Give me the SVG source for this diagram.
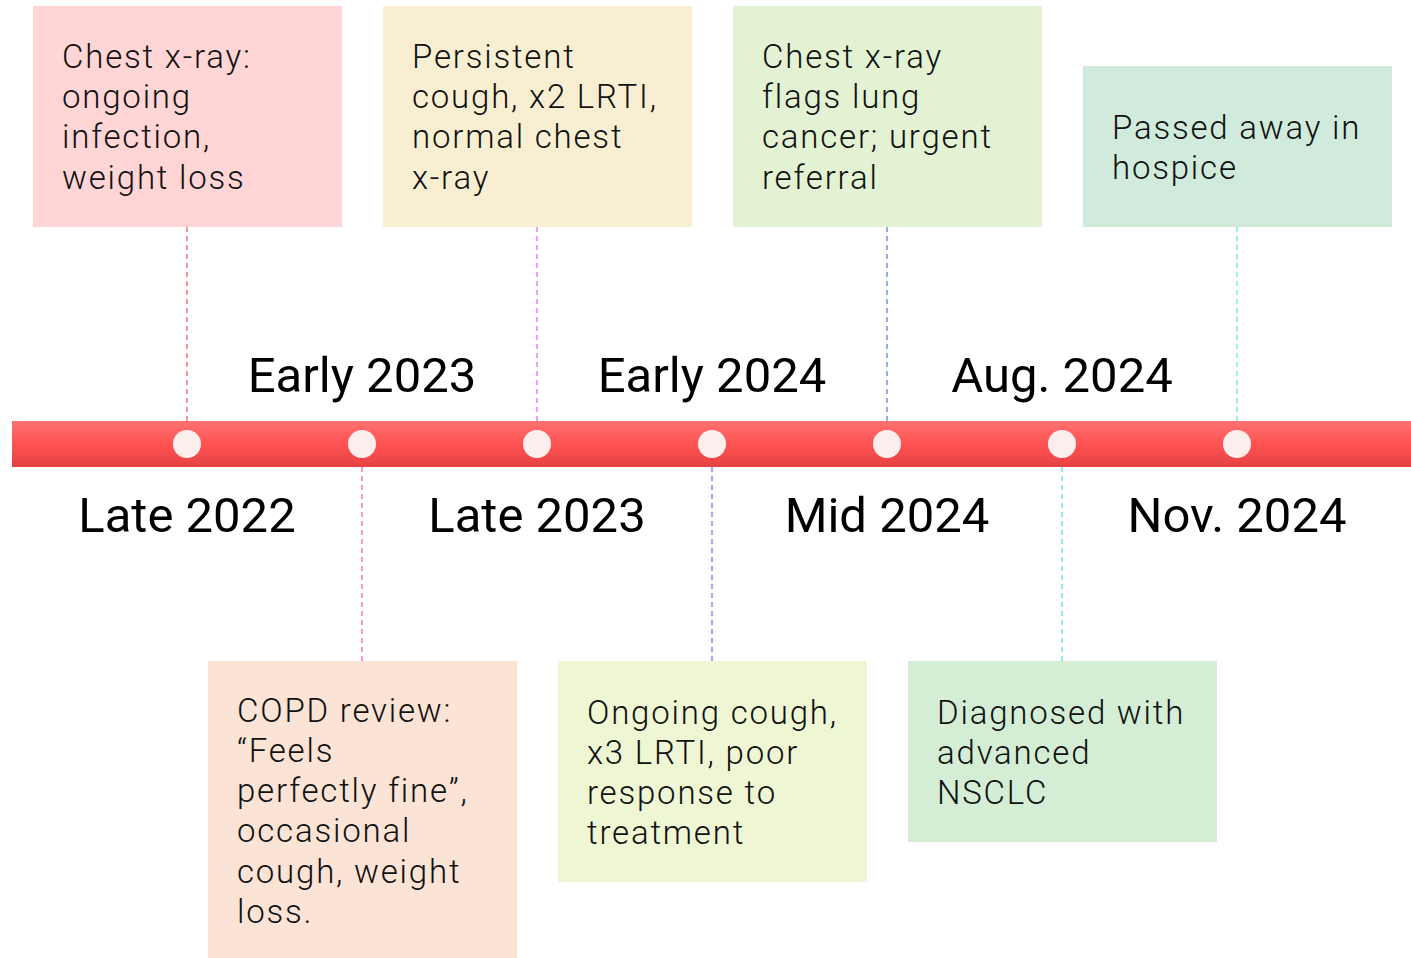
<svg xmlns="http://www.w3.org/2000/svg" width="1411" height="958" viewBox="0 0 1411 958">
<defs>
<linearGradient id="bar" x1="0" y1="0" x2="0" y2="1">
<stop offset="0" stop-color="#ff7272"/>
<stop offset="0.5" stop-color="#ff5252"/>
<stop offset="1" stop-color="#e54242"/>
</linearGradient>
</defs>
<style>
.bt{font-family:Roboto,"Liberation Sans",sans-serif;font-weight:300;font-size:33px;letter-spacing:1.8px;fill:#111}
.yl{font-family:Roboto,"Liberation Sans",sans-serif;font-weight:400;font-size:49px;fill:#000;text-anchor:middle}
.dl{stroke-width:1.3;stroke-dasharray:5 4;fill:none}
.dot{fill:#fdeeee}
</style>
<rect width="1411" height="958" fill="#fff"/>
<g id="connectors">
<line class="dl" x1="187" y1="227" x2="187" y2="421" stroke="#f06262"/>
<line class="dl" x1="537" y1="227" x2="537" y2="421" stroke="#e070f0"/>
<line class="dl" x1="887" y1="227" x2="887" y2="421" stroke="#6282e8"/>
<line class="dl" x1="1237" y1="227" x2="1237" y2="421" stroke="#6ee8c6"/>
<line class="dl" x1="362" y1="467" x2="362" y2="661" stroke="#f262b8"/>
<line class="dl" x1="712" y1="467" x2="712" y2="661" stroke="#a462f2"/>
<line class="dl" x1="1062" y1="467" x2="1062" y2="661" stroke="#62d8f2"/>
</g>
<g id="timeline">
<rect x="12" y="421" width="1399" height="46" fill="url(#bar)"/>
<circle class="dot" cx="187" cy="444" r="14"/>
<circle class="dot" cx="362" cy="444" r="14"/>
<circle class="dot" cx="537" cy="444" r="14"/>
<circle class="dot" cx="712" cy="444" r="14"/>
<circle class="dot" cx="887" cy="444" r="14"/>
<circle class="dot" cx="1062" cy="444" r="14"/>
<circle class="dot" cx="1237" cy="444" r="14"/>
</g>
<g id="labels">
<text class="yl" x="362" y="392">Early 2023</text>
<text class="yl" x="712" y="392">Early 2024</text>
<text class="yl" x="1062" y="392">Aug. 2024</text>
<text class="yl" x="187" y="532">Late 2022</text>
<text class="yl" x="537" y="532">Late 2023</text>
<text class="yl" x="887" y="532">Mid 2024</text>
<text class="yl" x="1237" y="532">Nov. 2024</text>
</g>
<g id="node-late2022">
<rect x="33" y="6" width="309" height="221" fill="#ffd5d5"/>
<text class="bt" x="62" y="68">Chest x-ray:</text>
<text class="bt" x="62" y="108">ongoing</text>
<text class="bt" x="62" y="148">infection,</text>
<text class="bt" x="62" y="189">weight loss</text>
</g>
<g id="node-late2023">
<rect x="383" y="6" width="309" height="221" fill="#f8efd2"/>
<text class="bt" x="412" y="68">Persistent</text>
<text class="bt" x="412" y="108">cough, x2 LRTI,</text>
<text class="bt" x="412" y="148">normal chest</text>
<text class="bt" x="412" y="189">x-ray</text>
</g>
<g id="node-mid2024">
<rect x="733" y="6" width="309" height="221" fill="#e2f2d3"/>
<text class="bt" x="762" y="68">Chest x-ray</text>
<text class="bt" x="762" y="108">flags lung</text>
<text class="bt" x="762" y="148">cancer; urgent</text>
<text class="bt" x="762" y="189">referral</text>
</g>
<g id="node-nov2024">
<rect x="1083" y="66" width="309" height="161" fill="#d0eadb"/>
<text class="bt" x="1112" y="139">Passed away in</text>
<text class="bt" x="1112" y="179">hospice</text>
</g>
<g id="node-early2023">
<rect x="208" y="661" width="309" height="297" fill="#fbe3d5"/>
<text class="bt" x="237" y="722">COPD review:</text>
<text class="bt" x="237" y="762">“Feels</text>
<text class="bt" x="237" y="802">perfectly fine”,</text>
<text class="bt" x="237" y="842">occasional</text>
<text class="bt" x="237" y="883">cough, weight</text>
<text class="bt" x="237" y="923">loss.</text>
</g>
<g id="node-early2024">
<rect x="558" y="661" width="309" height="221" fill="#eef6d4"/>
<text class="bt" x="587" y="724">Ongoing cough,</text>
<text class="bt" x="587" y="764">x3 LRTI, poor</text>
<text class="bt" x="587" y="804">response to</text>
<text class="bt" x="587" y="844">treatment</text>
</g>
<g id="node-aug2024">
<rect x="908" y="661" width="309" height="181" fill="#d3eed5"/>
<text class="bt" x="937" y="724">Diagnosed with</text>
<text class="bt" x="937" y="764">advanced</text>
<text class="bt" x="937" y="804">NSCLC</text>
</g>
</svg>
